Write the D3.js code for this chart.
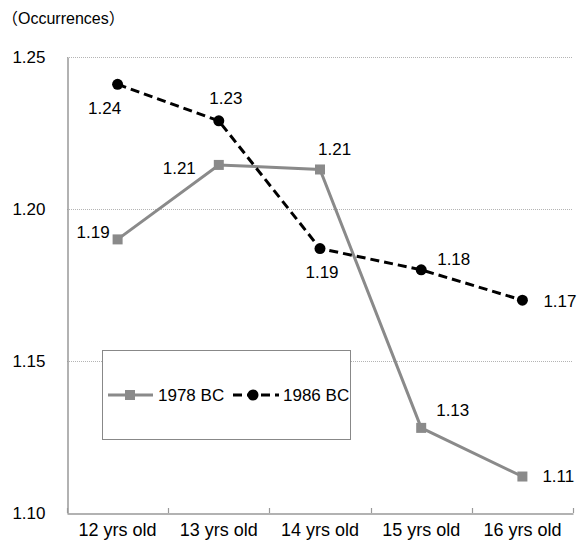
<!DOCTYPE html>
<html>
<head>
<meta charset="utf-8">
<script src="https://cdn.jsdelivr.net/npm/d3@7"></script>
<style>
  body { margin: 0; background: #fff; }
  svg { display: block; font-family: "Liberation Sans", Arial, "Noto Sans CJK JP", sans-serif; }
</style>
</head>
<body>
<svg id="chart" width="577" height="541"></svg>
<script>
// chart data
const categories = ["12 yrs old", "13 yrs old", "14 yrs old", "15 yrs old", "16 yrs old"];
const series1978 = [1.190, 1.2145, 1.213, 1.128, 1.112];
const series1986 = [1.241, 1.229, 1.187, 1.180, 1.170];
const labels1978 = ["1.19", "1.21", "1.21", "1.13", "1.11"];
const labels1986 = ["1.24", "1.23", "1.19", "1.18", "1.17"];
const yTicks = [1.10, 1.15, 1.20, 1.25];

// label placement relative to each point: [dx, dy, anchor]
const offsets1978 = [[-8, -7, "end"], [-23, 3, "end"], [-2, -20, "start"], [15, -18, "start"], [20, 0, "start"]];
const offsets1986 = [[-13, 24, "middle"], [7, -23, "middle"], [2, 24, "middle"], [16, -11, "start"], [21, 1, "start"]];

const margin = { top: 57, right: 4, bottom: 28, left: 67 };
const width = 577, height = 541;

const svg = d3.select("#chart");

const x = d3.scaleBand()
  .domain(categories)
  .range([margin.left, width - margin.right]);

const y = d3.scaleLinear()
  .domain([1.10, 1.25])
  .range([height - margin.bottom, margin.top]);

const cx = (d) => x(d) + x.bandwidth() / 2;

// gridlines
svg.append("g")
  .selectAll("line")
  .data(yTicks.filter((t) => t > 1.10))
  .join("line")
  .attr("x1", margin.left)
  .attr("x2", width - margin.right)
  .attr("y1", (d) => Math.round(y(d)) + 0.5)
  .attr("y2", (d) => Math.round(y(d)) + 0.5)
  .attr("stroke", "#b4b4b4")
  .attr("stroke-dasharray", "1,1");

// y axis
const yAxis = svg.append("g")
  .attr("transform", `translate(${margin.left + 0.5},0)`)
  .call(d3.axisLeft(y).tickValues(yTicks).tickFormat(d3.format(".2f")).tickSize(0).tickPadding(22));
yAxis.select(".domain").attr("stroke", "#999").attr("stroke-width", 1.5);
yAxis.selectAll("text").attr("font-size", 17).attr("fill", "#000").attr("font-family", null);

// x axis
const xAxis = svg.append("g")
  .attr("transform", `translate(0,${height - margin.bottom + 0.5})`)
  .call(d3.axisBottom(x).tickSize(0).tickPadding(10));
xAxis.select(".domain").attr("stroke", "#999").attr("stroke-width", 1.5);
xAxis.selectAll("text").attr("font-size", 18).attr("fill", "#000").attr("font-family", null);

// boundary tick marks pointing up
const bounds = categories.map((c) => x(c)).concat([width - margin.right]);
svg.append("g")
  .selectAll("line")
  .data(bounds)
  .join("line")
  .attr("x1", (d) => Math.round(d) + 0.5)
  .attr("x2", (d) => Math.round(d) + 0.5)
  .attr("y1", height - margin.bottom)
  .attr("y2", height - margin.bottom - 5)
  .attr("stroke", "#999")
  .attr("stroke-width", 1.2);

// axis title
svg.append("text")
  .attr("x", 2)
  .attr("y", 24)
  .attr("font-size", 16)
  .text("（Occurrences）");

const line = d3.line()
  .x((d, i) => cx(categories[i]))
  .y((d) => y(d));

const grey = "#8a8a8a";

// 1978 BC
svg.append("path")
  .datum(series1978)
  .attr("fill", "none")
  .attr("stroke", grey)
  .attr("stroke-width", 3)
  .attr("d", line);

svg.append("g")
  .selectAll("rect")
  .data(series1978)
  .join("rect")
  .attr("x", (d, i) => cx(categories[i]) - 5)
  .attr("y", (d) => y(d) - 5)
  .attr("width", 10)
  .attr("height", 10)
  .attr("fill", grey);

// 1986 BC
svg.append("path")
  .datum(series1986)
  .attr("fill", "none")
  .attr("stroke", "#000")
  .attr("stroke-width", 3)
  .attr("stroke-dasharray", "9,5")
  .attr("d", line);

svg.append("g")
  .selectAll("circle")
  .data(series1986)
  .join("circle")
  .attr("cx", (d, i) => cx(categories[i]))
  .attr("cy", (d) => y(d))
  .attr("r", 5.5)
  .attr("fill", "#000");

// data labels
function addLabels(values, texts, offsets) {
  svg.append("g")
    .selectAll("text")
    .data(values)
    .join("text")
    .attr("x", (d, i) => cx(categories[i]) + offsets[i][0])
    .attr("y", (d, i) => y(d) + offsets[i][1])
    .attr("dy", "0.35em")
    .attr("text-anchor", (d, i) => offsets[i][2])
    .attr("font-size", 17)
    .text((d, i) => texts[i]);
}
addLabels(series1978, labels1978, offsets1978);
addLabels(series1986, labels1986, offsets1986);

// legend
const legend = svg.append("g");
legend.append("rect")
  .attr("x", 102.5)
  .attr("y", 350.5)
  .attr("width", 248)
  .attr("height", 89)
  .attr("fill", "#fff")
  .attr("stroke", "#888");

const ly = 395;
legend.append("line")
  .attr("x1", 108).attr("x2", 153)
  .attr("y1", ly).attr("y2", ly)
  .attr("stroke", grey).attr("stroke-width", 3);
legend.append("rect")
  .attr("x", 125).attr("y", ly - 5)
  .attr("width", 10).attr("height", 10)
  .attr("fill", grey);
legend.append("text")
  .attr("x", 158).attr("y", ly).attr("dy", "0.35em")
  .attr("font-size", 17)
  .text("1978 BC");

legend.append("line")
  .attr("x1", 233).attr("x2", 279)
  .attr("y1", ly).attr("y2", ly)
  .attr("stroke", "#000").attr("stroke-width", 3)
  .attr("stroke-dasharray", "9,5");
legend.append("circle")
  .attr("cx", 253).attr("cy", ly)
  .attr("r", 5.5)
  .attr("fill", "#000");
legend.append("text")
  .attr("x", 283).attr("y", ly).attr("dy", "0.35em")
  .attr("font-size", 17)
  .text("1986 BC");
</script>
</body>
</html>
